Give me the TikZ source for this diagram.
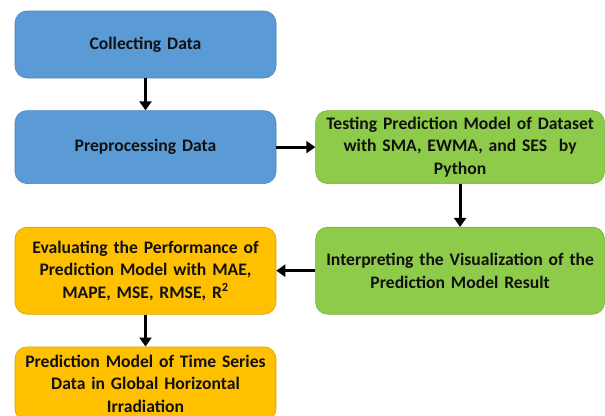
\documentclass[tikz,border=0pt]{standalone}
\usepackage{fontspec}
\setmainfont{Carlito}
\usepackage{xcolor}
\usetikzlibrary{positioning,arrows.meta}
\definecolor{stepblue}{HTML}{5B9BD5}
\definecolor{stepgreen}{HTML}{8FCB4A}
\definecolor{steporange}{HTML}{FFC000}
\definecolor{steptext}{HTML}{111111}

\begin{document}
\begin{tikzpicture}[x=1pt,y=1pt]
\tikzstyle{box} = [rectangle, rounded corners=12pt, minimum width=261pt, text width=255pt, align=center, font=\fontsize{17.6}{22.5}\selectfont\bfseries, text=steptext, inner sep=0pt, line width=0.6pt]
\tikzstyle{bluebox} = [box, draw=stepblue!85!black, fill=stepblue]
\tikzstyle{greenbox} = [box, draw=stepgreen!85!black, fill=stepgreen, minimum width=289pt, text width=286pt]
\tikzstyle{orangebox} = [box, draw=steporange!85!black, fill=steporange]
\tikzstyle{arrow} = [line width=3.2pt, -{Triangle[length=9pt,width=12pt]}]

\useasboundingbox (0,0) rectangle (605,-415);

% Nodes
\node (collect) [bluebox, minimum height=67pt] at (145.5,-44.5) {Collecting Data};
\node (prepro) [bluebox, minimum height=73pt, below=32pt of collect] {Preprocessing Data};
\node (testing) [greenbox, minimum height=73pt, right=39pt of prepro] {Testing Prediction Model of Dataset\\with SMA, EWMA, and SES\ \ by\\Python};
\node (interp) [greenbox, minimum height=87pt, below=43pt of testing] {Interpreting the Visualization of the\\Prediction Model Result};
\node (evaluate) [orangebox, minimum height=87pt, left=39pt of interp] {Evaluating the Performance of\\Prediction Model with MAE,\\MAPE, MSE, RMSE, R\textsuperscript{2}};
\node (predict) [orangebox, minimum height=74pt, below=32pt of evaluate] {Prediction Model of Time Series\\Data in Global Horizontal\\Irradiation};

% Arrows
\draw [arrow] (collect) -- (prepro);
\draw [arrow] (prepro) -- (testing);
\draw [arrow] (testing) -- (interp);
\draw [arrow] (interp) -- (evaluate);
\draw [arrow] (evaluate) -- (predict);

\end{tikzpicture}
\end{document}
